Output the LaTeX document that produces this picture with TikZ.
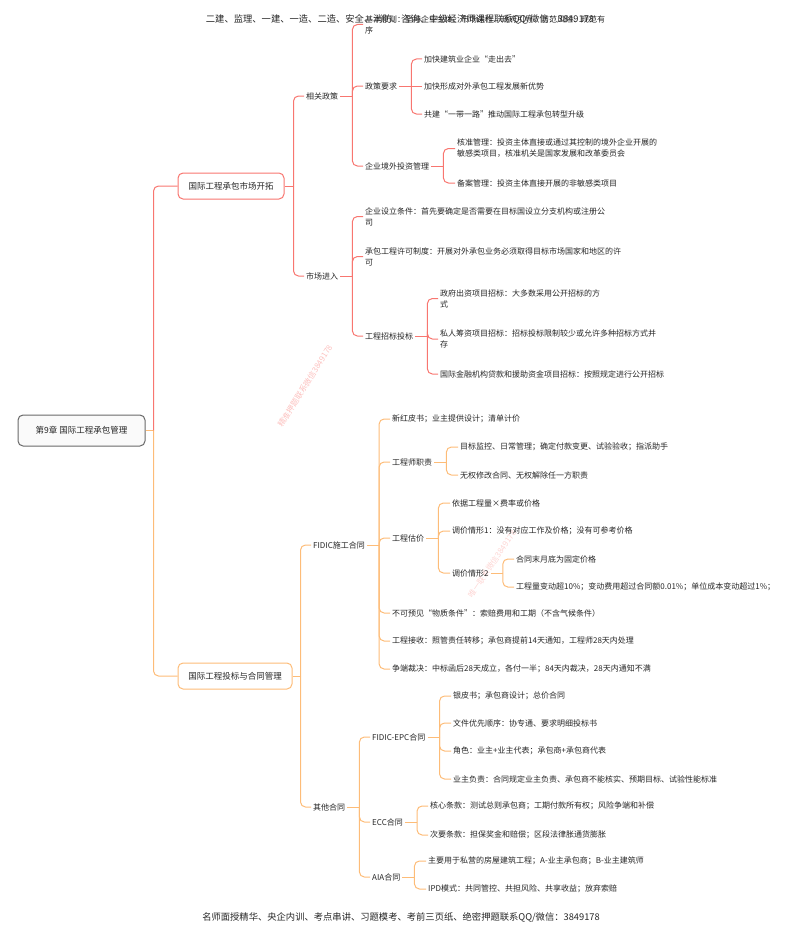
\documentclass[tikz,border=0pt]{standalone}
\usepackage{fontspec}
\setmainfont{Noto Sans CJK SC}
\usepackage{tikz}
\usetikzlibrary{calc}

\definecolor{redbr}{RGB}{248,118,112}
\definecolor{orgbr}{RGB}{253,188,120}
\definecolor{rootln}{RGB}{105,105,105}

\begin{document}
\begin{tikzpicture}[x=1pt, y=-1pt,
    leaf/.style={anchor=west, align=left, inner sep=2pt, font=\fontsize{8}{11}\selectfont, text=black!85},
    box/.style={draw, rounded corners=5pt, line width=1pt, minimum height=26pt, inner sep=2pt, font=\fontsize{8.5}{10}\selectfont, fill=white, text=black!85},
    redln/.style={draw=redbr, line width=1pt, rounded corners=5pt},
    orgln/.style={draw=orgbr, line width=1pt, rounded corners=5pt},
    wmark/.style={font=\fontsize{8}{8}\selectfont, text=redbr!45}
]

\useasboundingbox (0,0) rectangle (800,934);

% Watermarks
\node[wmark, rotate=58] (wm1) at (305,386) {精准押题联系微信3849178};
\node[wmark, rotate=56, text=redbr!30] (wm2) at (492,564) {唯一联系微信3849178};

% Header and footer
\node[font=\fontsize{9.3}{10}\selectfont, text=black!85] (head) at (400,19) {二建、监理、一建、一造、二造、安全、消防、咨询、中级经济师课程联系QQ/微信：3849178};
\node[font=\fontsize{9.3}{10}\selectfont, text=black!85] (foot) at (401,917) {名师面授精华、央企内训、考点串讲、习题模考、考前三页纸、绝密押题联系QQ/微信：3849178};

% Root and main topics
\node[box, draw=rootln, fill=gray!4, minimum width=127pt, minimum height=31pt] (chap) at (81.5,430.5) {第9章 国际工程承包管理};
\node[box, draw=redbr, minimum width=106pt] (mktdev) at (231,186) {国际工程承包市场开拓};
\node[box, draw=orgbr, minimum width=114pt] (bidmgt) at (235,676) {国际工程投标与合同管理};

% Market development branch
\node[leaf] (pol) at (304,96) {相关政策};
\node[leaf] (entry) at (304,276) {市场进入};

\node[leaf] (princ) at (363,24.5) {基本原则：坚持企业主体、市场运作、政府引导、防范风险、规范有\\序};
\node[leaf] (req) at (363,86) {政策要求};
\node[leaf] (invest) at (363,166) {企业境外投资管理};

\node[leaf] (req1) at (422,59) {加快建筑业企业“走出去”};
\node[leaf] (req2) at (422,86) {加快形成对外承包工程发展新优势};
\node[leaf] (req3) at (422,114) {共建“一带一路”推动国际工程承包转型升级};

\node[leaf] (appr) at (455,148.5) {核准管理：投资主体直接或通过其控制的境外企业开展的\\敏感类项目，核准机关是国家发展和改革委员会};
\node[leaf] (recd) at (455,183) {备案管理：投资主体直接开展的非敏感类项目};

\node[leaf] (setup) at (363,216.5) {企业设立条件：首先要确定是否需要在目标国设立分支机构或注册公\\司};
\node[leaf] (lic) at (363,256.5) {承包工程许可制度：开展对外承包业务必须取得目标市场国家和地区的许\\可};
\node[leaf] (tender) at (363,336) {工程招标投标};

\node[leaf] (gov) at (438,298.5) {政府出资项目招标：大多数采用公开招标的方\\式};
\node[leaf] (priv) at (438,339) {私人筹资项目招标：招标投标限制较少或允许多种招标方式并\\存};
\node[leaf] (intl) at (438,374) {国际金融机构贷款和援助资金项目招标：按照规定进行公开招标};

% Bidding and contract branch
\node[leaf] (fidic) at (311,545) {FIDIC施工合同};
\node[leaf] (other) at (311,807) {其他合同};

\node[leaf] (redbk) at (390,419) {新红皮书；业主提供设计；清单计价};
\node[leaf] (eng) at (390,462) {工程师职责};
\node[leaf] (val) at (390,538) {工程估价};
\node[leaf] (unf) at (390,613) {不可预见“物质条件”：索赔费用和工期（不含气候条件）};
\node[leaf] (take) at (390,641) {工程接收：照管责任转移；承包商提前14天通知，工程师28天内处理};
\node[leaf] (disp) at (390,669) {争端裁决：中标函后28天成立，各付一半；84天内裁决，28天内通知不满};

\node[leaf] (eng1) at (458,447) {目标监控、日常管理；确定付款变更、试验验收；指派助手};
\node[leaf] (eng2) at (458,475) {无权修改合同、无权解除任一方职责};

\node[leaf] (val1) at (450,503) {依据工程量×费率或价格};
\node[leaf] (val2) at (450,531) {调价情形1：没有对应工作及价格；没有可参考价格};
\node[leaf] (val3) at (450,573) {调价情形2};

\node[leaf] (val3a) at (514,559) {合同末月底为固定价格};
\node[leaf] (val3b) at (514,587) {工程量变动超10\%；变动费用超过合同额0.01\%；单位成本变动超过1\%；};

\node[leaf] (epc) at (370,737) {FIDIC-EPC合同};
\node[leaf] (ecc) at (370,822) {ECC合同};
\node[leaf] (aia) at (370,877) {AIA合同};

\node[leaf] (epc1) at (451,696) {银皮书；承包商设计；总价合同};
\node[leaf] (epc2) at (451,723) {文件优先顺序：协专通、要求明细投标书};
\node[leaf] (epc3) at (451,751) {角色：业主+业主代表；承包商+承包商代表};
\node[leaf] (epc4) at (451,779) {业主负责：合同规定业主负责、承包商不能核实、预期目标、试验性能标准};

\node[leaf] (ecc1) at (428,806) {核心条款：测试总则承包商；工期付款所有权；风险争端和补偿};
\node[leaf] (ecc2) at (428,835) {次要条款：担保奖金和赔偿；区段法律胀通货膨胀};

\node[leaf] (aia1) at (426,861) {主要用于私营的房屋建筑工程；A-业主承包商；B-业主建筑师};
\node[leaf] (aia2) at (426,889) {IPD模式：共同管控、共担风险、共享收益；放弃索赔};

% Root connectors
\draw[orgln] (chap.east) -- ++(8,0) coordinate (chapt);
\draw[redln] (chapt) |- (mktdev.west);
\draw[orgln] (chapt) |- (bidmgt.west);

% Market development connectors
\draw[redln] (mktdev.east) -- ++(9,0) coordinate (mktdevt);
\foreach \c in {pol,entry} \draw[redln] (mktdevt) |- (\c.west);

\draw[redln] (pol.east) -- ++(12,0) coordinate (polt);
\foreach \c in {princ,req,invest} \draw[redln] (polt) |- (\c.west);

\draw[redln] (req.east) -- ++(12,0) coordinate (reqt);
\foreach \c in {req1,req3} \draw[redln] (reqt) |- (\c.west);
\draw[redln] (reqt) -- (req2.west);

\draw[redln] (invest.east) -- ++(12,0) coordinate (investt);
\foreach \c in {appr,recd} \draw[redln] (investt) |- (\c.west);

\draw[redln] (entry.east) -- ++(12,0) coordinate (entryt);
\foreach \c in {setup,lic,tender} \draw[redln] (entryt) |- (\c.west);

\draw[redln] (tender.east) -- ++(12,0) coordinate (tendert);
\foreach \c in {gov,priv,intl} \draw[redln] (tendert) |- (\c.west);

% Bidding and contract connectors
\draw[orgln] (bidmgt.east) -- ++(8,0) coordinate (bidmgtt);
\foreach \c in {fidic,other} \draw[orgln] (bidmgtt) |- (\c.west);

\draw[orgln] (fidic.east) -- ++(12,0) coordinate (fidict);
\foreach \c in {redbk,eng,val,unf,take,disp} \draw[orgln] (fidict) |- (\c.west);

\draw[orgln] (eng.east) -- ++(12,0) coordinate (engt);
\foreach \c in {eng1,eng2} \draw[orgln] (engt) |- (\c.west);

\draw[orgln] (val.east) -- ++(12,0) coordinate (valt);
\foreach \c in {val1,val2,val3} \draw[orgln] (valt) |- (\c.west);

\draw[orgln] (val3.east) -- ++(12,0) coordinate (val3t);
\foreach \c in {val3a,val3b} \draw[orgln] (val3t) |- (\c.west);

\draw[orgln] (other.east) -- ++(12,0) coordinate (othert);
\foreach \c in {epc,ecc,aia} \draw[orgln] (othert) |- (\c.west);

\draw[orgln] (epc.east) -- ++(12,0) coordinate (epct);
\foreach \c in {epc1,epc2,epc3,epc4} \draw[orgln] (epct) |- (\c.west);

\draw[orgln] (ecc.east) -- ++(12,0) coordinate (ecct);
\foreach \c in {ecc1,ecc2} \draw[orgln] (ecct) |- (\c.west);

\draw[orgln] (aia.east) -- ++(12,0) coordinate (aiat);
\foreach \c in {aia1,aia2} \draw[orgln] (aiat) |- (\c.west);

\end{tikzpicture}
\end{document}
